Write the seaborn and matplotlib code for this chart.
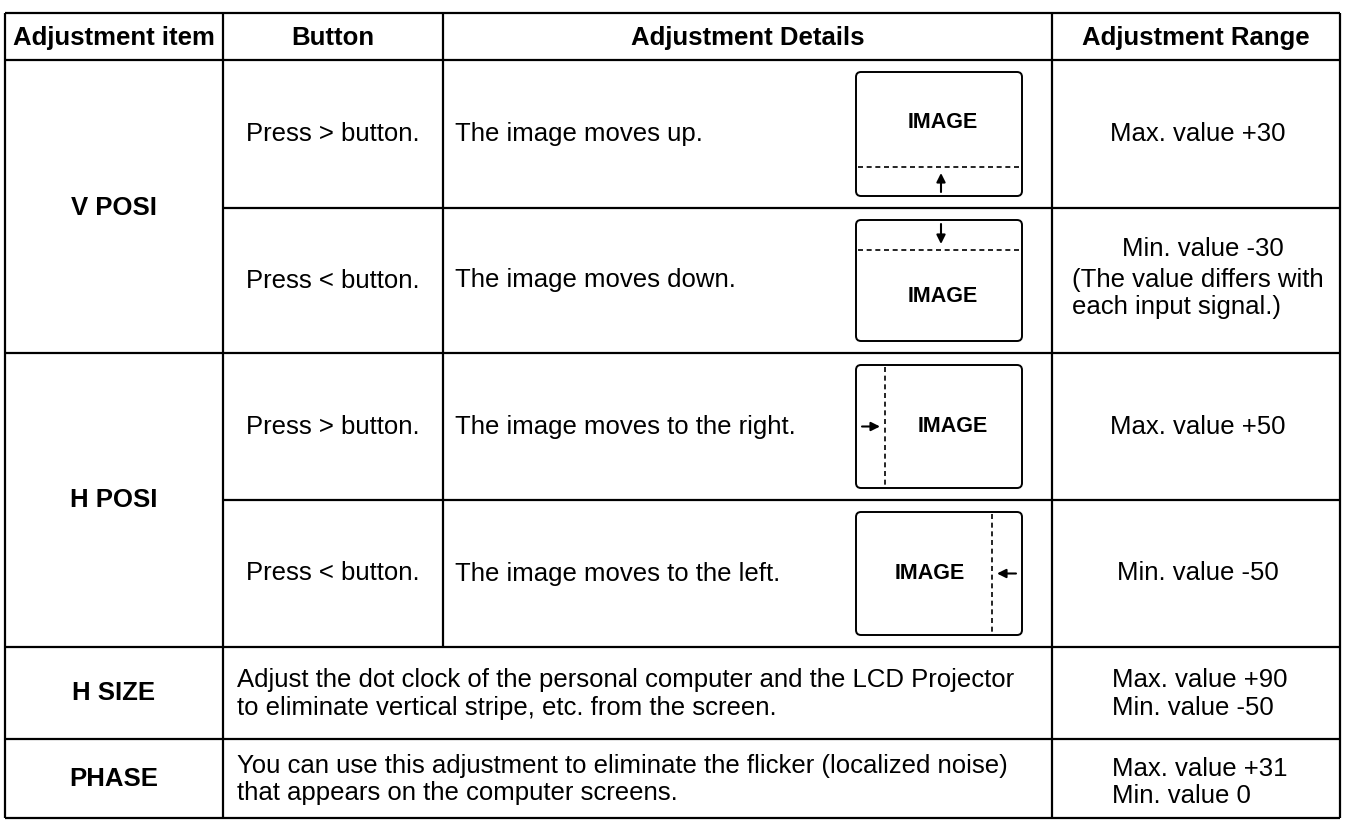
import matplotlib
matplotlib.use("Agg")
import matplotlib.pyplot as plt
from matplotlib.patches import FancyBboxPatch
import seaborn as sns

# ---------------- data ----------------
headers = ["Adjustment item", "Button", "Adjustment Details", "Adjustment Range"]
items = ["V POSI", "H POSI", "H SIZE", "PHASE"]
buttons = ["Press > button.", "Press < button.", "Press > button.", "Press < button."]
details = ["The image moves up.", "The image moves down.",
           "The image moves to the right.", "The image moves to the left."]
merged_details = [
    "Adjust the dot clock of the personal computer and the LCD Projector\n"
    "to eliminate vertical stripe, etc. from the screen.",
    "You can use this adjustment to eliminate the flicker (localized noise)\n"
    "that appears on the computer screens.",
]
range_main = ["Max. value +30", "Min. value -30", "Max. value +50", "Min. value -50"]
range_note = ["", "(The value differs with\neach input signal.)", "", ""]
merged_ranges = ["Max. value +90\nMin. value -50", "Max. value +31\nMin. value 0"]
screen_label = "IMAGE"
screen_shift = ["up", "down", "right", "left"]

# ---------------- layout ----------------
sns.set_theme(style="white")
plt.rcParams["font.family"] = ["Liberation Sans", "DejaVu Sans"]

W, H = 1345, 823
fig = plt.figure(figsize=(W / 100, H / 100), dpi=100)
ax = fig.add_axes([0, 0, 1, 1])
ax.set_xlim(0, W)
ax.set_ylim(H, 0)
ax.axis("off")

col_x = [5, 223, 443, 1052, 1340]
row_y = [13, 60, 208, 353, 500, 647, 739, 818]
FS = 18.5
LW = 1.6
LS = 1.17
txt = dict(color="black", fontsize=FS)

# grid lines (sub-row lines do not cross the merged item cells)
for i, y in enumerate(row_y):
    x_start = col_x[1] if i in (2, 4) else col_x[0]
    ax.hlines(y, x_start, col_x[-1], color="black", lw=LW)
for x in [col_x[0], col_x[1], col_x[3], col_x[4]]:
    ax.vlines(x, row_y[0], row_y[-1], color="black", lw=LW)
ax.vlines(col_x[2], row_y[0], row_y[5], color="black", lw=LW)

# header
for i, h in enumerate(headers):
    cx = (col_x[i] + col_x[i + 1]) / 2
    ax.text(cx, (row_y[0] + row_y[1]) / 2 + 1, h, ha="center", va="center",
            fontweight="bold", **txt)

# item labels
item_y = [row_y[2], row_y[4], (row_y[5] + row_y[6]) / 2, (row_y[6] + row_y[7]) / 2 + 1]
for lab, y in zip(items, item_y):
    ax.text((col_x[0] + col_x[1]) / 2, y, lab, ha="center", va="center",
            fontweight="bold", **txt)

# per-row cells (V POSI / H POSI)
rng_cx = (col_x[3] + col_x[4]) / 2 + 2
for k in range(4):
    y0, y1 = row_y[k + 1], row_y[k + 2]
    cy = (y0 + y1) / 2
    ax.text((col_x[1] + col_x[2]) / 2, cy, buttons[k], ha="center", va="center", **txt)
    ax.text(455, cy, details[k], ha="left", va="center", **txt)
    if range_note[k]:
        ax.text(rng_cx + 5, cy - 32, range_main[k], ha="center", va="center", **txt)
        ax.text(rng_cx, cy + 13, range_note[k], ha="center", va="center",
                multialignment="left", linespacing=LS, **txt)
    else:
        ax.text(rng_cx, cy, range_main[k], ha="center", va="center", **txt)

    # screen illustration
    bx0, bx1 = 856, 1022
    by0, by1 = y0 + 12, y1 - 12
    box = FancyBboxPatch((bx0, by0), bx1 - bx0, by1 - by0,
                         boxstyle="round,pad=0,rounding_size=5",
                         fc="white", ec="black", lw=1.4)
    ax.add_patch(box)
    dash = dict(color="black", lw=1.2, linestyle=(0, (3, 2.2)))
    arrow = dict(arrowstyle="-|>", color="black", lw=1.5, mutation_scale=13,
                 shrinkA=0, shrinkB=0)
    lab_kw = dict(ha="center", va="center", fontweight="bold", fontsize=15.5, color="black")
    mid_x = (bx0 + bx1) / 2 + 2
    mid_y = (by0 + by1) / 2
    s = screen_shift[k]
    if s == "up":
        dy = by1 - 29
        ax.hlines(dy, bx0 + 2, bx1 - 2, **dash)
        ax.annotate("", xy=(mid_x, dy + 6), xytext=(mid_x, by1 - 4), arrowprops=arrow)
        ax.text(mid_x + 2, by0 + 50, screen_label, **lab_kw)
    elif s == "down":
        dy = by0 + 30
        ax.hlines(dy, bx0 + 2, bx1 - 2, **dash)
        ax.annotate("", xy=(mid_x, dy - 6), xytext=(mid_x, by0 + 4), arrowprops=arrow)
        ax.text(mid_x + 2, by1 - 44, screen_label, **lab_kw)
    elif s == "right":
        dx = bx0 + 29
        ax.vlines(dx, by0 + 2, by1 - 2, **dash)
        ax.annotate("", xy=(dx - 5, mid_y), xytext=(bx0 + 6, mid_y), arrowprops=arrow)
        ax.text(dx + 68, mid_y, screen_label, **lab_kw)
    else:
        dx = bx1 - 30
        ax.vlines(dx, by0 + 2, by1 - 2, **dash)
        ax.annotate("", xy=(dx + 5, mid_y), xytext=(bx1 - 6, mid_y), arrowprops=arrow)
        ax.text(dx - 62, mid_y, screen_label, **lab_kw)

# merged rows (H SIZE / PHASE)
for j in range(2):
    y0, y1 = row_y[5 + j], row_y[6 + j]
    cy = (y0 + y1) / 2 + 1
    ax.text(237, cy, merged_details[j], ha="left", va="center", linespacing=LS, **txt)
    ax.text(1112, cy + 3 * j, merged_ranges[j], ha="left", va="center", linespacing=LS, **txt)

fig.savefig("out.png", dpi=100, facecolor="white")
